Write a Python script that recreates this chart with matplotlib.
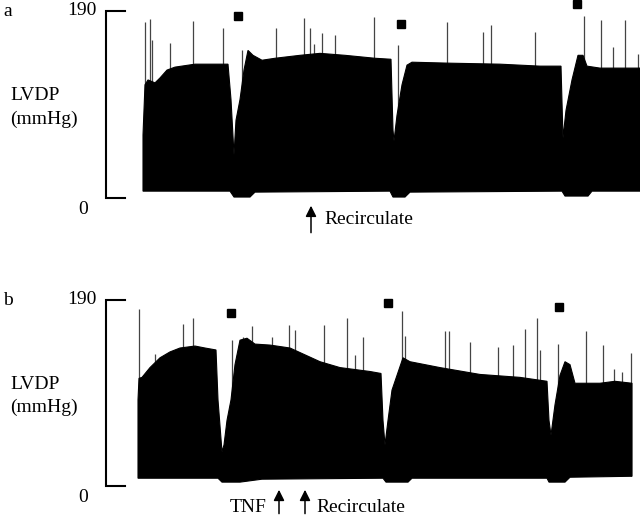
import numpy as np
import matplotlib.pyplot as plt

plt.rcParams['font.family'] = ['Liberation Serif', 'DejaVu Serif']

# ---- panel a : LVDP trace (time in chart units, pressure in mmHg) ----
a_env_t = [143, 145, 148, 155, 160, 167, 175, 195, 228, 231, 234, 236, 240, 244, 248,
           253, 262, 275, 300, 320, 345, 375, 391, 393, 394, 397, 402, 407, 412,
           450, 500, 540, 561, 563, 566, 572, 578, 583, 587, 600, 640]
a_env_p = [64, 115, 120, 117, 122, 130, 133, 136, 136, 100, 44, 79, 100, 130, 150,
           145, 140, 142, 145, 147, 145, 142, 141, 69, 58, 84, 115, 135, 138,
           137, 136, 134, 134, 61, 89, 120, 145, 145, 134, 132, 132]
a_base_t = [143, 230, 234, 250, 255, 390, 393, 405, 410, 562, 565, 588, 592, 640]
a_base_p = [7, 7, 1, 1, 6, 7, 1, 1, 6, 7, 2, 2, 7, 7]
a_spike_t = [145, 150, 152, 170, 193, 223, 242, 276, 304, 310, 314, 322, 335, 374,
             398, 447, 483, 491, 535, 584, 601, 613, 625, 638]
a_spike_p = [179, 182, 161, 158, 180, 173, 150, 173, 183, 173, 157, 168, 166, 184,
             155, 179, 169, 176, 169, 185, 181, 153, 181, 146]
a_mark_t = [238, 401, 577]
a_mark_p = [185, 177, 197]

# ---- panel b ----
b_env_t = [138, 139, 142, 150, 160, 170, 180, 195, 205, 216, 218, 222, 224, 227, 231,
           235, 240, 247, 255, 270, 290, 305, 320, 340, 370, 381, 383, 385, 388, 392,
           397, 403, 410, 440, 480, 520, 547, 549, 551, 555, 560, 565, 570, 575, 600,
           615, 632]
b_env_p = [88, 110, 111, 121, 131, 137, 141, 143, 141, 139, 88, 35, 42, 67, 88,
           124, 149, 151, 145, 144, 141, 134, 127, 121, 117, 115, 67, 42, 67, 98,
           113, 131, 127, 121, 114, 111, 107, 67, 52, 83, 113, 127, 124, 105, 105,
           107, 105]
b_base_t = [138, 218, 222, 240, 262, 383, 386, 408, 412, 547, 549, 565, 570, 632]
b_base_p = [8, 8, 4, 4, 7, 8, 4, 4, 8, 8, 4, 4, 9, 10]
b_spike_t = [139, 155, 183, 193, 232, 243, 252, 272, 289, 295, 324, 347, 355, 363,
             402, 405, 445, 449, 470, 498, 513, 525, 537, 540, 558, 586, 603, 614,
             622, 631]
b_spike_p = [181, 135, 166, 172, 149, 152, 163, 152, 164, 159, 164, 172, 134, 152,
             179, 153, 158, 158, 147, 142, 144, 160, 172, 139, 145, 158, 144, 120,
             117, 136]
b_mark_t = [231, 388, 559]
b_mark_p = [177, 187, 183]

fig = plt.figure(figsize=(6.4, 5.16), dpi=100)
ax_a = fig.add_axes([0, 266 / 516, 1, 250 / 516])
ax_b = fig.add_axes([0, 0, 1, 256 / 516])
ax_a.set_ylim(-52.8, 201.2)
ax_b.set_ylim(-30.6, 230.9)


def draw_panel(ax, env_t, env_p, base_t, base_p, spk_t, spk_p, mk_t, mk_p, letter):
    ax.set_xlim(0, 640)
    ax.axis('off')
    # thin spikes first, trace on top
    ax.vlines(spk_t, 10, spk_p, color='#444444', lw=0.9, zorder=1)
    xs = np.concatenate([env_t, base_t[::-1]])
    ys = np.concatenate([env_p, base_p[::-1]])
    ax.fill(xs, ys, color='black', lw=0.8, zorder=2)
    ax.plot(mk_t, mk_p, 's', color='black', ms=6, zorder=3)
    # scale bracket
    ax.plot([125, 106, 106, 125], [190, 190, 0, 0], color='black', lw=1.5,
            solid_joinstyle='miter', clip_on=False)
    ax.text(97, 191, '190', ha='right', va='center', fontsize=14)
    ax.text(83, -12, '0', ha='center', va='center', fontsize=14)
    ax.text(10, 104, 'LVDP', ha='left', va='center', fontsize=14)
    ax.text(10, 80, '(mmHg)', ha='left', va='center', fontsize=14)
    ax.text(3, 190, letter, ha='left', va='center', fontsize=14)


draw_panel(ax_a, a_env_t, a_env_p, np.array(a_base_t), np.array(a_base_p),
           a_spike_t, a_spike_p, a_mark_t, a_mark_p, 'a')
draw_panel(ax_b, b_env_t, b_env_p, np.array(b_base_t), np.array(b_base_p),
           b_spike_t, b_spike_p, b_mark_t, b_mark_p, 'b')

arrow = dict(arrowstyle='-|>', color='black', lw=1.1, mutation_scale=16)
ax_a.annotate('', xy=(311, -5), xytext=(311, -38), arrowprops=arrow)
ax_a.text(324, -22, 'Recirculate', ha='left', va='center', fontsize=14)

ax_b.annotate('', xy=(279, -1), xytext=(279, -31), arrowprops=arrow, annotation_clip=False)
ax_b.text(267, -22, 'TNF', ha='right', va='center', fontsize=14)
ax_b.annotate('', xy=(305, -1), xytext=(305, -31), arrowprops=arrow, annotation_clip=False)
ax_b.text(316, -22, 'Recirculate', ha='left', va='center', fontsize=14)

fig.savefig('out.png', dpi=100)
